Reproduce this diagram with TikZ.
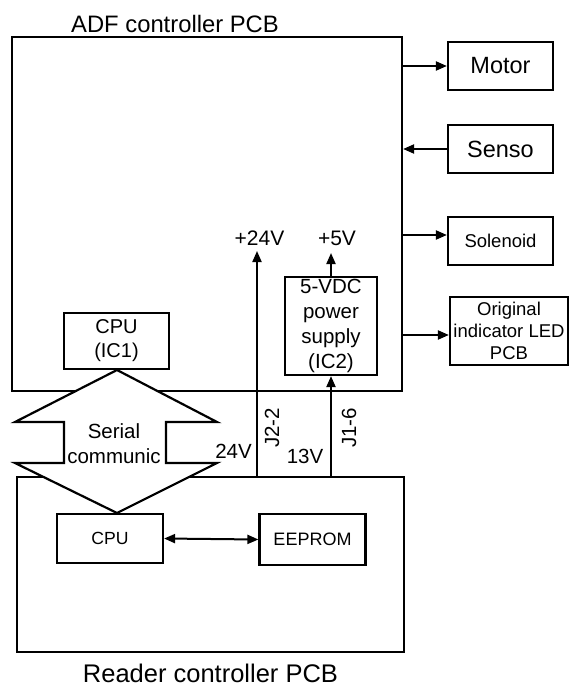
\documentclass[tikz,border=0pt]{standalone}
\usepackage{fontspec}
\setmainfont{Liberation Sans}
\usetikzlibrary{arrows.meta}
\begin{document}
\begin{tikzpicture}[x=1pt,y=-1pt,
  box/.style={draw,line width=2.2pt,inner sep=0pt,align=center},
  arr/.style={line width=2pt,-{Triangle[length=11pt,width=9pt]}},
  darr/.style={line width=2pt,{Triangle[length=11pt,width=9pt]}-{Triangle[length=11pt,width=9pt]}},
  lbl/.style={inner sep=0pt},
  fA/.style={font=\fontsize{20.5}{25}\selectfont},
  fB/.style={font=\fontsize{18.5}{22}\selectfont},
  fC/.style={font=\fontsize{23.5}{28}\selectfont}]
\useasboundingbox (0,0) rectangle (570,688);
% main boards
\node[box,minimum width=390pt,minimum height=354pt] (adf) at (207,214) {};
\node[box,minimum width=387pt,minimum height=175pt] (reader) at (210.5,564.5) {};
\node[lbl,anchor=base,font=\fontsize{23.8}{28}\selectfont] (adft) at (175,32) {ADF controller PCB};
\node[lbl,anchor=base,font=\fontsize{25.5}{30}\selectfont] (rdt) at (210.5,682) {Reader controller PCB};
% peripherals
\node[box,fC,minimum width=105pt,minimum height=48pt] (motor) at (500.5,66) {Motor};
\node[box,fC,minimum width=105pt,minimum height=48pt] (senso) at (500.5,149) {Senso};
\node[box,fB,minimum width=105pt,minimum height=48pt] (sol) at (500.5,241) {Solenoid};
\node[box,fB,minimum width=118pt,minimum height=68pt] (led) at (509,331) {Original\\indicator LED\\PCB};
% inner blocks
\node[box,fA,font=\fontsize{20}{24}\selectfont,minimum width=105pt,minimum height=56pt] (cpu1) at (116.5,341) {CPU\\(IC1)};
\node[box,fA,minimum width=92pt,minimum height=98pt] (psu) at (331,326) {5-VDC\\power\\supply\\(IC2)};
\node[box,font=\fontsize{17.6}{21}\selectfont,minimum width=106pt,minimum height=49pt] (cpu2) at (110,538.5) {CPU};
\node[box,font=\fontsize{18}{21}\selectfont,minimum width=106pt,minimum height=51pt] (eeprom) at (312.5,539.5) {EEPROM};
% serial communication block arrow
\draw[line width=2.2pt,fill=white,line join=miter]
  (117,370) -- (217,422) -- (166,422) -- (166,463) -- (217,463) -- (117,513)
  -- (15,463) -- (64,463) -- (64,422) -- (15,422) -- cycle;
\node[lbl,fA,align=center] (serial) at (114,444) {Serial\\communic};
% side connectors
\draw[arr] (adf.east |- motor.west) -- (motor.west);
\draw[arr] (senso.west) -- (adf.east |- senso.west);
\draw[arr] (adf.east |- 0,235) -- (sol.west |- 0,235);
\draw[arr] (adf.east |- 0,335) -- (led.west |- 0,335);
% power lines
\node[lbl,fA,font=\fontsize{21}{25}\selectfont,anchor=base] (v24) at (259.5,245) {+24V};
\node[lbl,fA,font=\fontsize{21}{25}\selectfont,anchor=base] (v5) at (337,245) {+5V};
\coordinate (a24) at (257,477);
\coordinate (t24) at (257,251);
\draw[arr] (a24) -- (t24);
\draw[arr] (reader.north -| psu.south) -- (psu.south);
\coordinate (t5) at (331,253);
\draw[arr] (psu.north) -- (t5);
\node[lbl,fA,anchor=base east] (l24) at (252,458) {24V};
\node[lbl,fA,anchor=base] (l13) at (305,463) {13V};
\node[lbl,fA,rotate=90] (j22) at (272,428) {J2-2};
\node[lbl,fA,rotate=90] (j16) at (349,428) {J1-6};
% reader internal
\draw[darr] (cpu2.east) -- (eeprom.west);
\end{tikzpicture}
\end{document}
